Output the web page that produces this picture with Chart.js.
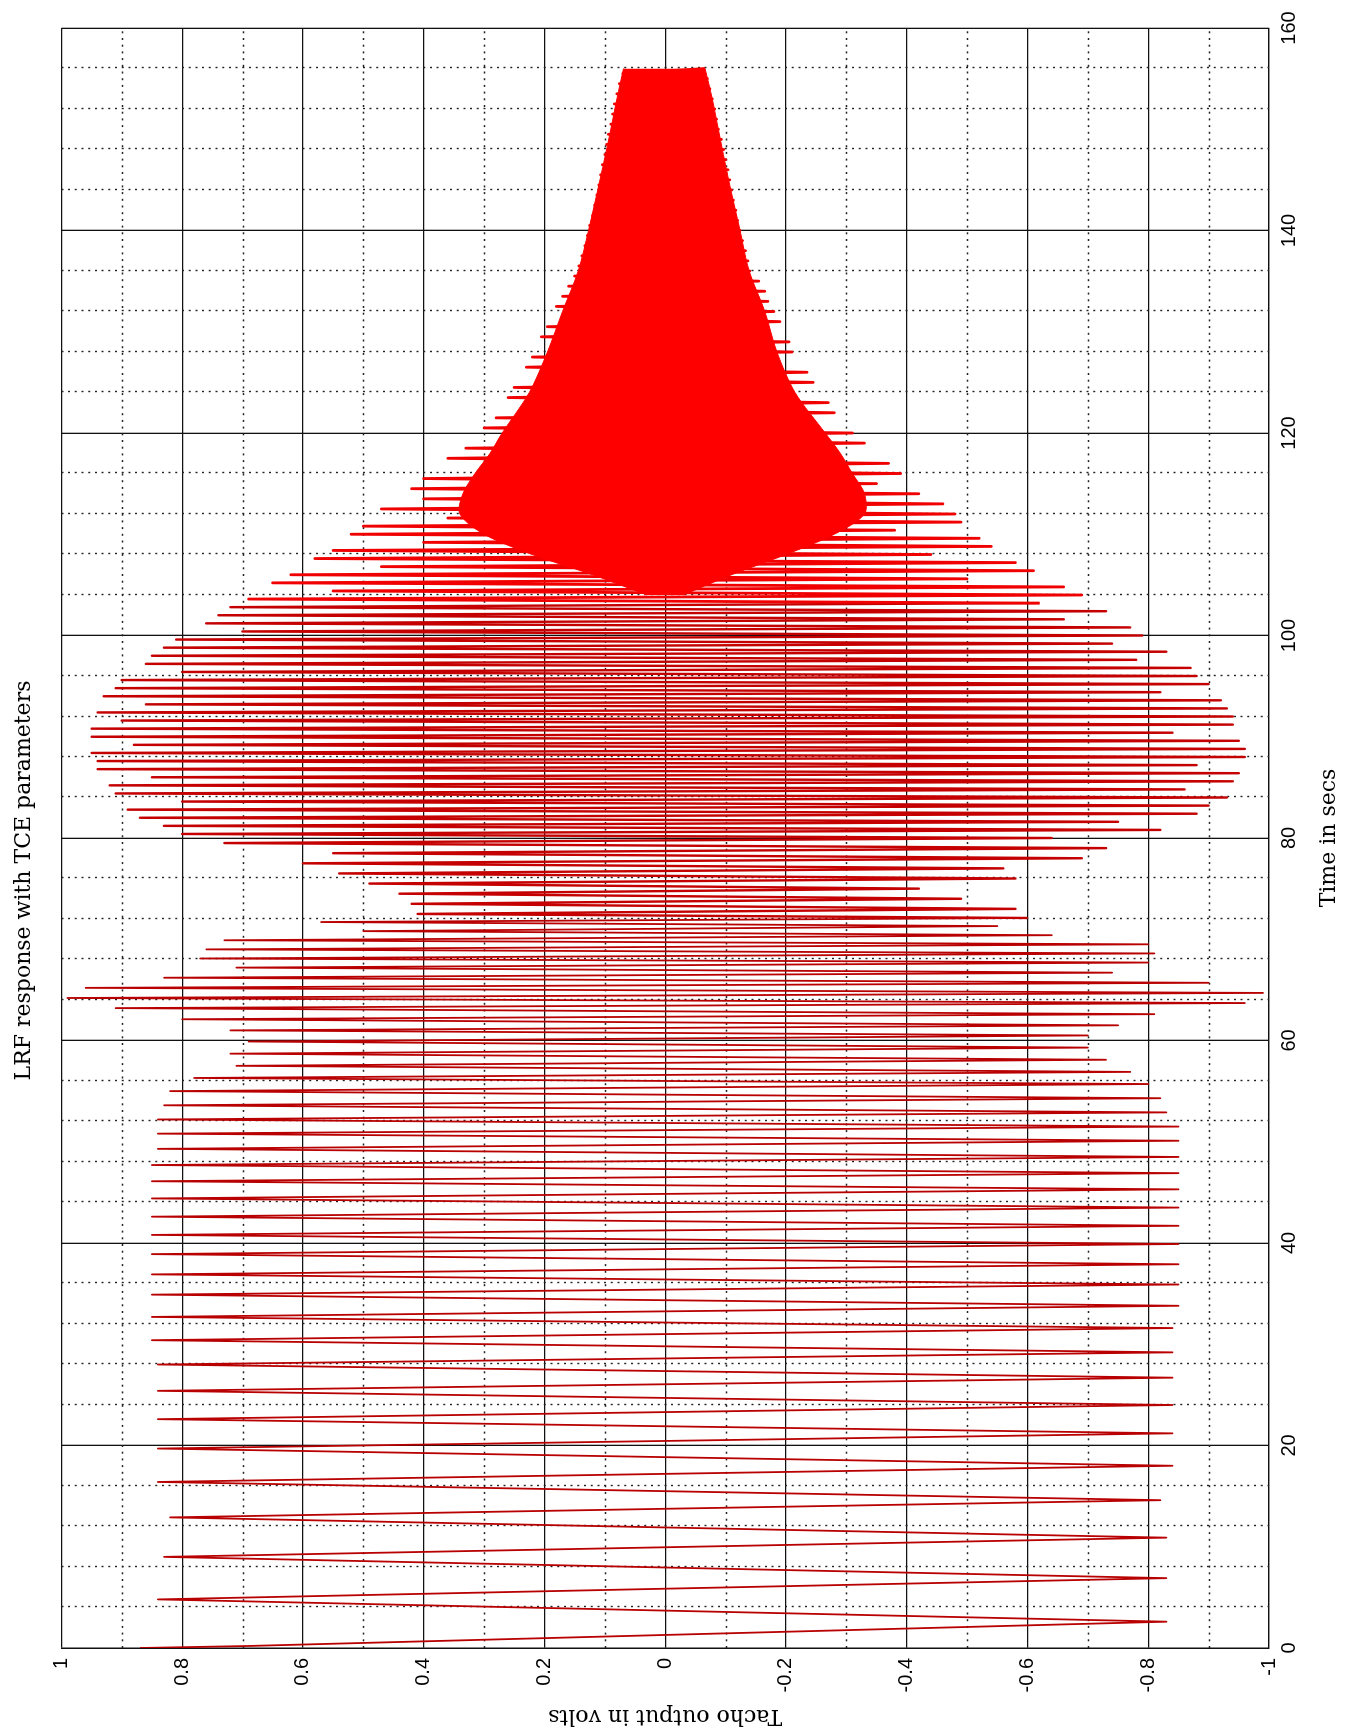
<!DOCTYPE html>
<html>
<head>
<meta charset="utf-8">
<title>LRF response with TCE parameters</title>
<script src="https://cdn.jsdelivr.net/npm/chart.js@4.4.1/dist/chart.umd.min.js"></script>
<style>
  html, body { margin: 0; padding: 0; background: #fff; }
  #page { position: relative; width: 1354px; height: 1733px; overflow: hidden; background: #fff; }
  /* the MATLAB figure was saved turned a quarter turn, so the chart is drawn upright and rotated */
  #lrfChart { position: absolute; left: 0; top: 0; transform-origin: 0 0; transform: translate(0, 1733px) rotate(-90deg); }
</style>
</head>
<body>
<div id="page"><canvas id="lrfChart" width="1733" height="1354"></canvas></div>
<script>
// axis ticks
const timeTicks = [0, 20, 40, 60, 80, 100, 120, 140, 160];
const timeTickLabels = ["0", "20", "40", "60", "80", "100", "120", "140", "160"];
const voltTicks = [-1, -0.8, -0.6, -0.4, -0.2, 0, 0.2, 0.4, 0.6, 0.8, 1];
const voltTickLabels = ["-1", "-0.8", "-0.6", "-0.4", "-0.2", "0", "0.2", "0.4", "0.6", "0.8", "1"];

// turning points of the tacho trace, 0 - 72.5 s (slow part)
const slowTimes = [
  0.0, 0.2,
  2.6, 4.8, 6.9, 9.0, 10.9, 12.9, 14.6, 16.4, 18.0, 19.7,
  21.2, 22.6, 24.0, 25.4, 26.7, 28.0, 29.2, 30.4, 31.6, 32.7,
  33.8, 34.9, 35.9, 36.9, 37.9, 38.9, 39.9, 40.8, 41.7, 42.6,
  43.5, 44.4, 45.3, 46.1, 46.9, 47.7, 48.5, 49.3, 50.1, 50.8,
  51.5, 52.2, 52.9, 53.6, 54.3, 55.0, 55.7, 56.3, 56.9, 57.5,
  58.1, 58.7, 59.3, 59.9, 60.5, 61.0, 61.5, 62.1, 62.6, 63.2,
  63.7, 64.2, 64.7, 65.2, 65.7, 66.2, 66.7, 67.2, 67.7, 68.1,
  68.6, 69.0, 69.5, 69.9, 70.4, 70.8, 71.3, 71.7, 72.1, 72.5
];
const slowVolts = [
  0.87, 0.69,
  -0.83, 0.84, -0.83, 0.83, -0.83, 0.82, -0.82, 0.84, -0.84, 0.84,
  -0.84, 0.84, -0.84, 0.84, -0.84, 0.84, -0.84, 0.85, -0.84, 0.85,
  -0.85, 0.85, -0.85, 0.85, -0.85, 0.85, -0.85, 0.85, -0.85, 0.85,
  -0.85, 0.85, -0.85, 0.85, -0.85, 0.85, -0.85, 0.84, -0.85, 0.84,
  -0.85, 0.84, -0.83, 0.83, -0.82, 0.82, -0.80, 0.78, -0.77, 0.71,
  -0.73, 0.72, -0.70, 0.69, -0.70, 0.72, -0.75, 0.80, -0.81, 0.91,
  -0.96, 0.99, -0.99, 0.96, -0.90, 0.83, -0.74, 0.71, -0.80, 0.77,
  -0.81, 0.76, -0.80, 0.73, -0.64, 0.50, -0.55, 0.57, -0.60, 0.41
];

// 73 - 112 s, the big swell
const swellTimes = [
  73.0, 73.5, 74.0, 74.5, 75.0, 75.5, 76.0, 76.5, 77.0, 77.5,
  78.0, 78.5, 79.0, 79.5, 80.0, 80.4, 80.8, 81.2, 81.6, 82.0,
  82.4, 82.8, 83.2, 83.6, 84.0, 84.4, 84.8, 85.2, 85.6, 86.0,
  86.4, 86.8, 87.2, 87.6, 88.0, 88.4, 88.8, 89.2, 89.6, 90.0,
  90.4, 90.8, 91.2, 91.6, 92.0, 92.4, 92.8, 93.2, 93.6, 94.0,
  94.4, 94.8, 95.2, 95.6, 96.0, 96.4, 96.8, 97.2, 97.6, 98.0,
  98.4, 98.8, 99.2, 99.6, 100.0, 100.4, 100.8, 101.2, 101.6, 102.0,
  102.4, 102.8, 103.2, 103.6, 104.0, 104.4, 104.8, 105.2, 105.6, 106.0,
  106.4, 106.8, 107.2, 107.6, 108.0, 108.4, 108.8, 109.2, 109.6, 110.0,
  110.4, 110.8, 111.2, 111.6, 112.0
];
const swellVolts = [
  -0.58, 0.42, -0.49, 0.44, -0.42, 0.49, -0.58, 0.54, -0.56, 0.60,
  -0.69, 0.55, -0.73, 0.73, -0.64, 0.80, -0.82, 0.83, -0.75, 0.87,
  -0.88, 0.89, -0.90, 0.80, -0.93, 0.91, -0.86, 0.92, -0.94, 0.85,
  -0.95, 0.94, -0.88, 0.94, -0.96, 0.95, -0.96, 0.88, -0.95, 0.95,
  -0.84, 0.95, -0.94, 0.90, -0.94, 0.94, -0.93, 0.86, -0.92, 0.93,
  -0.82, 0.91, -0.90, 0.90, -0.88, 0.80, -0.87, 0.86, -0.78, 0.85,
  -0.83, 0.83, -0.74, 0.81, -0.79, 0.70, -0.77, 0.76, -0.66, 0.74,
  -0.73, 0.72, -0.62, 0.69, -0.69, 0.55, -0.66, 0.65, -0.50, 0.62,
  -0.61, 0.47, -0.58, 0.58, -0.44, 0.55, -0.54, 0.40, -0.52, 0.52,
  -0.38, 0.50, -0.49, 0.36, -0.48
];

// 112.5 - 156 s, decay
const decayTimes = [
  112.5, 113.0, 113.5, 114.0, 114.5, 115.0, 115.5, 116.0, 116.5, 117.0,
  117.5, 118.0, 118.5, 119.0, 119.5, 120.0, 120.5, 121.0, 121.5, 122.0,
  122.5, 123.0, 123.5, 124.0, 124.5, 125.0, 125.5, 126.0, 126.5, 127.0,
  127.5, 128.0, 128.5, 129.0, 129.5, 130.0, 130.5, 131.0, 131.5, 132.0,
  132.5, 133.0, 133.5, 134.0, 134.5, 135.0, 135.5, 136.0, 136.5, 137.0,
  137.5, 138.0, 138.5, 139.0, 139.5, 140.0, 140.5, 141.0, 141.5, 142.0,
  142.5, 143.0, 143.5, 144.0, 144.5, 145.0, 145.5, 146.0, 146.5, 147.0,
  147.5, 148.0, 148.5, 149.0, 149.5, 150.0, 150.5, 151.0, 151.5, 152.0,
  152.5, 153.0, 153.5, 154.0, 154.5, 155.0, 155.5, 156.0
];
const decayVolts = [
  0.47, -0.46, 0.40, -0.42, 0.42, -0.35, 0.40, -0.39, 0.30, -0.37,
  0.36, -0.28, 0.33, -0.33, 0.24, -0.31, 0.30, -0.22, 0.28, -0.28,
  0.20, -0.27, 0.26, -0.19, 0.25, -0.245, 0.18, -0.235, 0.23, -0.16,
  0.22, -0.21, 0.15, -0.205, 0.205, -0.14, 0.195, -0.19, 0.13, -0.18,
  0.18, -0.17, 0.17, -0.165, 0.16, -0.155, 0.15, -0.14, 0.143, -0.137,
  0.138, -0.133, 0.133, -0.128, 0.129, -0.124, 0.125, -0.12, 0.12, -0.117,
  0.117, -0.113, 0.113, -0.11, 0.11, -0.107, 0.107, -0.104, 0.104, -0.1,
  0.1, -0.097, 0.097, -0.093, 0.094, -0.088, 0.09, -0.085, 0.087, -0.082,
  0.084, -0.078, 0.08, -0.074, 0.076, -0.07, 0.07, -0.066
];

// solid red core where the oscillation is too dense to resolve
const coreTimes = [104, 106, 108, 110, 112, 114, 116, 118, 120, 124, 128, 132, 136, 140, 145, 150, 153, 156];
const coreUpper = [0.03, 0.12, 0.22, 0.30, 0.34, 0.335, 0.315, 0.29, 0.27, 0.225, 0.195, 0.17, 0.144, 0.127, 0.108, 0.09, 0.08, 0.069];
const coreLower = [-0.03, -0.11, -0.20, -0.28, -0.33, -0.33, -0.31, -0.29, -0.265, -0.215, -0.185, -0.165, -0.139, -0.124, -0.105, -0.088, -0.078, -0.066];

const allTimes = slowTimes.concat(swellTimes, decayTimes);
const allVolts = slowVolts.concat(swellVolts, decayVolts);
const trace = allTimes.map((t, i) => ({ x: t, y: allVolts[i] }));

// dotted minor grid like MATLAB's "grid on" + minor ticks
const minorGrid = {
  id: 'minorGrid',
  beforeDatasetsDraw(chart) {
    const { ctx, chartArea: a, scales: { x, y } } = chart;
    ctx.save();
    ctx.strokeStyle = '#222';
    ctx.lineWidth = 1.4;
    ctx.setLineDash([2, 4.7]);
    ctx.beginPath();
    for (let t = 4; t < 160; t += 4) {
      if (t % 20 === 0) continue;
      const px = Math.round(x.getPixelForValue(t)) + 0.5;
      ctx.moveTo(px, a.top);
      ctx.lineTo(px, a.bottom);
    }
    for (let k = -9; k <= 9; k += 2) {
      const py = Math.round(y.getPixelForValue(k / 10)) + 0.5;
      ctx.moveTo(a.left, py);
      ctx.lineTo(a.right, py);
    }
    ctx.stroke();
    ctx.restore();
  }
};

const tickFont = { family: 'Liberation Sans, Arial, sans-serif', size: 20 };
const labelFont = { family: 'DejaVu Serif, serif', size: 22, weight: 'normal' };

new Chart(document.getElementById('lrfChart'), {
  type: 'line',
  data: {
    datasets: [
      {
        data: coreTimes.map((t, i) => ({ x: t, y: coreUpper[i] })),
        borderColor: '#ff0000',
        borderWidth: 1,
        backgroundColor: '#ff0000',
        pointRadius: 0,
        tension: 0.3,
        fill: '+1'
      },
      {
        data: coreTimes.map((t, i) => ({ x: t, y: coreLower[i] })),
        borderColor: '#ff0000',
        borderWidth: 1,
        pointRadius: 0,
        tension: 0.3,
        fill: false
      },
      {
        data: trace,
        borderColor: '#b80000',
        borderWidth: 1.8,
        borderJoinStyle: 'round',
        pointRadius: 0,
        tension: 0,
        fill: false,
        segment: {
          borderColor: c => c.p0.parsed.x >= 103 ? '#f00000' : (c.p0.parsed.x >= 72 ? '#c40000' : '#b80000'),
          borderWidth: c => c.p0.parsed.x >= 103 ? 2.8 : (c.p0.parsed.x >= 72 ? 2.4 : 1.8)
        }
      }
    ]
  },
  options: {
    responsive: false,
    animation: false,
    devicePixelRatio: 1,
    events: [],
    layout: { padding: { right: 28 } },
    plugins: {
      legend: { display: false },
      tooltip: { enabled: false },
      title: {
        display: true,
        text: 'LRF response with TCE parameters',
        font: labelFont,
        color: '#000',
        padding: { top: 11, bottom: 24 }
      }
    },
    scales: {
      x: {
        type: 'linear',
        min: 0,
        max: 160,
        afterBuildTicks: s => { s.ticks = timeTicks.map(v => ({ value: v })); },
        afterFit: s => { s.height = 85; },
        ticks: {
          callback: (v, i) => timeTickLabels[i],
          font: tickFont,
          color: '#000',
          padding: 8,
          maxRotation: 0,
          autoSkip: false
        },
        grid: { color: '#111', lineWidth: 1.3, drawTicks: false },
        border: { color: '#111', width: 1.3 },
        title: { display: true, text: 'Time in secs', font: labelFont, color: '#000', padding: { top: 0, bottom: 12 } }
      },
      y: {
        type: 'linear',
        min: -1,
        max: 1,
        afterBuildTicks: s => { s.ticks = voltTicks.map(v => ({ value: v })); },
        afterFit: s => { s.width = 85; },
        ticks: {
          callback: (v, i) => voltTickLabels[i],
          font: tickFont,
          color: '#000',
          padding: 10,
          autoSkip: false
        },
        grid: { color: '#111', lineWidth: 1.3, drawTicks: false },
        border: { color: '#111', width: 1.3 },
        title: { display: true, text: 'Tacho output in volts', font: labelFont, color: '#000', padding: { top: 4, bottom: 0 } }
      }
    }
  },
  plugins: [minorGrid]
});
</script>
</body>
</html>
